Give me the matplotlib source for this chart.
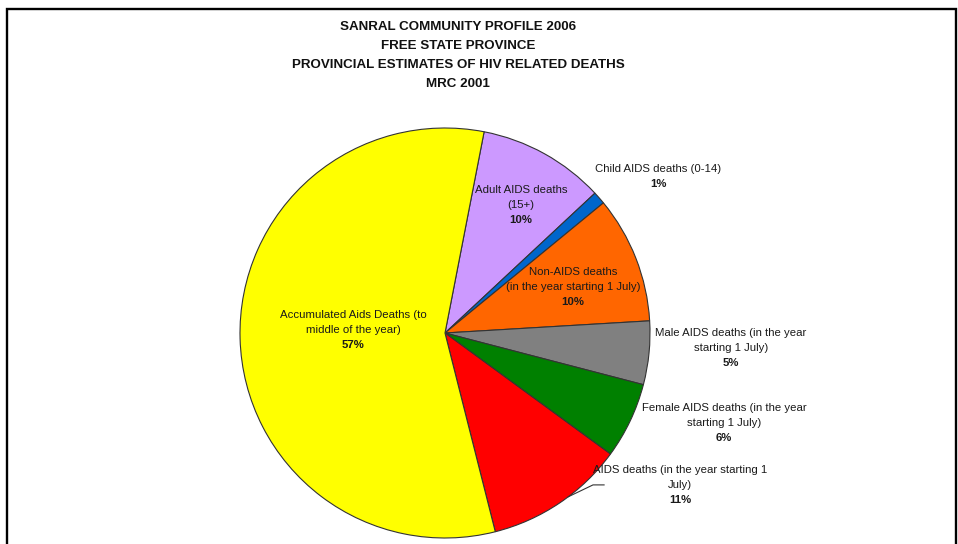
import matplotlib.pyplot as plt
from matplotlib.patches import Rectangle
import numpy as np

plt.rcParams["font.family"] = ["Liberation Sans", "DejaVu Sans"]

# slices, clockwise from the purple one
categories = [
    "Adult AIDS deaths\n(15+)",
    "Child AIDS deaths (0-14)",
    "Non-AIDS deaths\n(in the year starting 1 July)",
    "Male AIDS deaths (in the year\nstarting 1 July)",
    "Female AIDS deaths (in the year\nstarting 1 July)",
    "AIDS deaths (in the year starting 1\nJuly)",
    "Accumulated Aids Deaths (to\nmiddle of the year)",
]
shares = [10, 1, 10, 5, 6, 11, 57]
colors = ["#CC99FF", "#0066CC", "#FF6600", "#808080", "#008000", "#FF0000", "#FFFF00"]

title_lines = [
    "SANRAL COMMUNITY PROFILE 2006",
    "FREE STATE PROVINCE",
    "PROVINCIAL ESTIMATES OF HIV RELATED DEATHS",
    "MRC 2001",
]

# where each percentage line sits, in pie-radius units
label_pos = [
    (0.371, 0.551),
    (1.039, 0.727),
    (0.624, 0.151),
    (1.395, -0.146),
    (1.361, -0.512),
    (1.146, -0.815),
    (-0.449, -0.059),
]

W, H = 958, 544
fig = plt.figure(figsize=(W / 100, H / 100), dpi=100)

# outer frame
fig.patches.append(Rectangle((7 / W, -0.05), 948.5 / W, 1.05 - 9 / H,
                             transform=fig.transFigure, fill=False,
                             edgecolor="black", linewidth=1.7))

for i, line in enumerate(title_lines):
    fig.text(458 / W, 1 - (27.5 + i * 18.7) / H, line, ha="center", va="center",
             fontsize=9.6, fontweight="bold", color="#111111")

cx, cy, r = 445, 333, 205
ax = fig.add_axes([(cx - r) / W, (H - cy - r) / H, 2 * r / W, 2 * r / H])
wedges, _ = ax.pie(shares, colors=colors, startangle=79, counterclock=False,
                   wedgeprops=dict(edgecolor="#333333", linewidth=0.8))
ax.set_xlim(-1, 1)
ax.set_ylim(-1, 1)
ax.set_aspect("equal")
ax.axis("off")

step = 15 / r  # line pitch of the labels
for name, share, (lx, ly) in zip(categories, shares, label_pos):
    lines = name.split("\n")
    for k, text in enumerate(lines):
        ax.text(lx, ly + step * (len(lines) - k), text, ha="center", va="center",
                fontsize=8.2, color="#1a1a1a", clip_on=False)
    ax.text(lx, ly, f"{share}%", ha="center", va="center", fontsize=8.2,
            fontweight="bold", color="#1a1a1a", clip_on=False)

# leader line for the red slice
red = wedges[5]
mid = np.deg2rad((red.theta1 + red.theta2) / 2 + 3)
ex, ey = np.cos(mid), np.sin(mid)
ax.plot([ex, 0.722, 0.776], [ey, -0.741, -0.741], color="#333333",
        linewidth=0.8, clip_on=False)

fig.savefig("out.png", dpi=100)
